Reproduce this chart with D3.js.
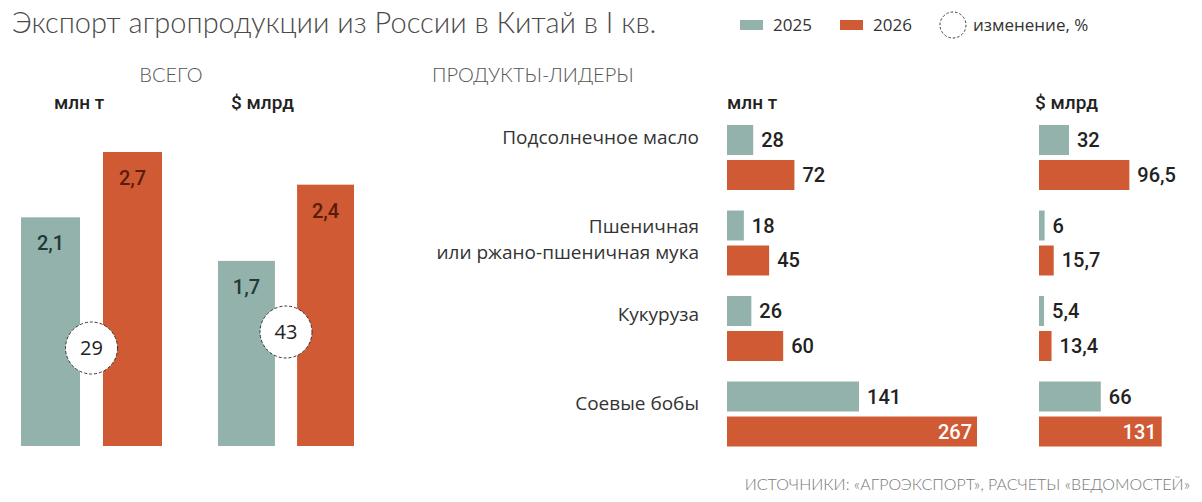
<!DOCTYPE html>
<html>
<head>
<meta charset="utf-8">
<script src="https://cdn.jsdelivr.net/npm/d3@7"></script>
<style>
  body { margin: 0; background: #fff; }
  svg { display: block; }
  .thin { font-family: Lato, "Open Sans", sans-serif; font-weight: 300; fill: #555; }
  .lbl { font-family: "Open Sans", sans-serif; fill: #333; }
  .val { font-family: Roboto, sans-serif; font-weight: 500; fill: #222; }
</style>
</head>
<body>
<div id="chart"></div>
<script>
// Экспорт агропродукции из России в Китай, I кв.
var w = 1202, h = 502;

var years = ["2025", "2026"];
var colors = ["#93b2ab", "#cf5a33"];

// всего
var totalTonnes = [2.1, 2.7];    // млн т
var totalDollars = [1.7, 2.4];   // $ млрд
var totalChange = [29, 43];      // изменение, %

// продукты-лидеры
var products = ["Подсолнечное масло", "Пшеничная\nили ржано-пшеничная мука", "Кукуруза", "Соевые бобы"];
var tonnes2025 = [28, 18, 26, 141];
var tonnes2026 = [72, 45, 60, 267];
var dollars2025 = [32, 6, 5.4, 66];
var dollars2026 = [96.5, 15.7, 13.4, 131];

var fmt = function(v) { return String(v).replace(".", ","); };

var svg = d3.select("#chart").append("svg")
  .attr("width", w).attr("height", h);

// заголовок
svg.append("text").attr("class", "thin")
  .attr("x", 12).attr("y", 33).style("font-size", "29px").style("fill", "#4a4a4a")
  .text("Экспорт агропродукции из России в Китай в I кв.");

// легенда
var legend = svg.append("g").attr("transform", "translate(740,0)");
years.forEach(function(y, i) {
  var g = legend.append("g").attr("transform", "translate(" + i * 100 + ",0)");
  g.append("rect").attr("x", 0).attr("y", 20).attr("width", 23).attr("height", 10)
    .attr("fill", colors[i]);
  g.append("text").attr("class", "lbl").attr("x", 33).attr("y", 31)
    .style("font-size", "17px").text(y);
});
legend.append("circle").attr("cx", 213).attr("cy", 25).attr("r", 13)
  .attr("fill", "none").attr("stroke", "#333").attr("stroke-dasharray", "2.5,2");
legend.append("text").attr("class", "lbl").attr("x", 233).attr("y", 31)
  .style("font-size", "17px").text("изменение, %");

// подзаголовки
svg.append("text").attr("class", "thin").attr("x", 171).attr("y", 82)
  .attr("text-anchor", "middle").style("font-size", "20px").text("ВСЕГО");
svg.append("text").attr("class", "thin").attr("x", 432).attr("y", 82)
  .style("font-size", "20px").text("ПРОДУКТЫ-ЛИДЕРЫ");

var units = [
  { t: "млн т", x: 54 }, { t: "$ млрд", x: 231 },
  { t: "млн т", x: 727 }, { t: "$ млрд", x: 1035 }
];
svg.selectAll("text.unit").data(units).enter().append("text")
  .attr("class", "val unit").attr("x", function(d) { return d.x; }).attr("y", 109)
  .style("font-size", "19px").text(function(d) { return d.t; });

// ВСЕГО: вертикальные столбики
var yV = d3.scaleLinear().domain([0, 2.7]).range([446, 152]);

var panels = [
  { vals: totalTonnes, change: totalChange[0], x0: 21, x1: 162, cy: 348 },
  { vals: totalDollars, change: totalChange[1], x0: 218, x1: 354, cy: 332 }
];
var textCols = ["#1f3a36", "#5a1b0b"];

panels.forEach(function(p) {
  var x = d3.scaleBand().domain(years).range([p.x0, p.x1]).paddingInner(0.28);
  var g = svg.append("g");
  g.selectAll("rect").data(p.vals).enter().append("rect")
    .attr("x", function(d, i) { return x(years[i]); })
    .attr("y", function(d) { return yV(d); })
    .attr("width", x.bandwidth())
    .attr("height", function(d) { return yV(0) - yV(d); })
    .attr("fill", function(d, i) { return colors[i]; });
  g.selectAll("text").data(p.vals).enter().append("text")
    .attr("class", "val")
    .attr("x", function(d, i) { return x(years[i]) + x.bandwidth() / 2; })
    .attr("y", function(d) { return yV(d) + 33; })
    .attr("text-anchor", "middle").style("font-size", "20px")
    .style("fill", function(d, i) { return textCols[i]; })
    .text(fmt);
  var cx = (x(years[0]) + x.bandwidth() + x(years[1])) / 2;
  g.append("circle").attr("cx", cx).attr("cy", p.cy).attr("r", 26)
    .attr("fill", "#fff").attr("stroke", "#333").attr("stroke-dasharray", "3,2");
  g.append("text").attr("class", "lbl").attr("x", cx).attr("y", p.cy + 7)
    .attr("text-anchor", "middle").style("font-size", "20px").style("fill", "#222")
    .text(p.change);
});

// ПРОДУКТЫ-ЛИДЕРЫ: горизонтальные столбики
var yG = d3.scaleBand().domain(products).range([125, 446.5]).paddingInner(0.24);
var yS = d3.scaleBand().domain(years).range([0, yG.bandwidth()]).paddingInner(0.143);
var xH = d3.scaleLinear().domain([0, 267]).range([0, 250]);

var hpanels = [
  { a: tonnes2025, b: tonnes2026, x0: 727 },
  { a: dollars2025, b: dollars2026, x0: 1039 }
];

hpanels.forEach(function(p) {
  var rows = [];
  products.forEach(function(c, i) {
    rows.push({ c: c, y: years[0], v: p.a[i], k: 0 });
    rows.push({ c: c, y: years[1], v: p.b[i], k: 1 });
  });
  var vmax = d3.max(rows, function(d) { return d.v; });
  var g = svg.append("g").attr("transform", "translate(" + p.x0 + ",0)");
  g.selectAll("rect").data(rows).enter().append("rect")
    .attr("x", 0)
    .attr("y", function(d) { return yG(d.c) + yS(d.y); })
    .attr("width", function(d) { return xH(d.v); })
    .attr("height", yS.bandwidth())
    .attr("fill", function(d) { return colors[d.k]; });
  g.selectAll("text").data(rows).enter().append("text")
    .attr("class", "val")
    .attr("x", function(d) { return d.v === vmax ? xH(d.v) - 5 : xH(d.v) + 8; })
    .attr("y", function(d) { return yG(d.c) + yS(d.y) + yS.bandwidth() / 2 + 7; })
    .attr("text-anchor", function(d) { return d.v === vmax ? "end" : "start"; })
    .style("font-size", "20px")
    .style("fill", function(d) { return d.v === vmax ? "#fff" : "#222"; })
    .text(function(d) { return fmt(d.v); });
});

// подписи категорий
products.forEach(function(c, k) {
  var lines = c.split("\n");
  var t = svg.append("text").attr("class", "lbl")
    .attr("text-anchor", "end").style("font-size", "19px");
  var mid = yG(c) + yS(years[0]) + yS.bandwidth() / 2;
  var top = lines.length > 1 ? mid + 7 : mid + 4 + k * 3;
  lines.forEach(function(l, i) {
    t.append("tspan").attr("x", 699).attr("y", top + i * 26).text(l);
  });
});

// источник
svg.append("text").attr("class", "thin")
  .attr("x", 1190).attr("y", 490).attr("text-anchor", "end")
  .style("font-size", "16px").style("fill", "#777")
  .text("ИСТОЧНИКИ: «АГРОЭКСПОРТ», РАСЧЕТЫ «ВЕДОМОСТЕЙ»");
</script>
</body>
</html>
